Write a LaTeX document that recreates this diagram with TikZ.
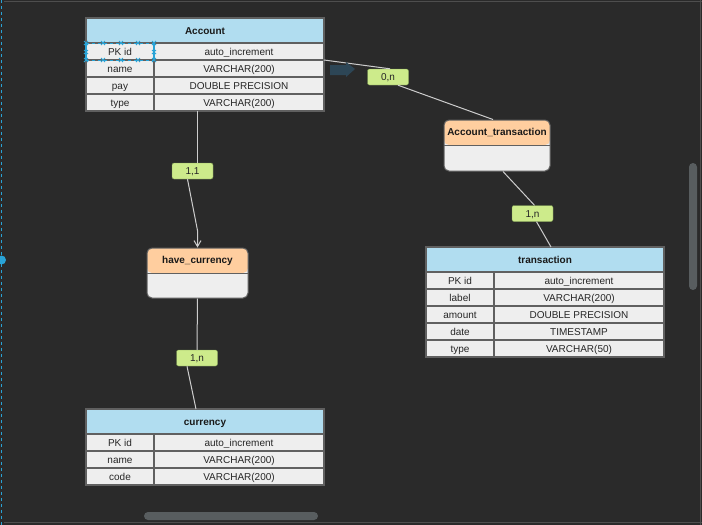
\documentclass[tikz,border=0pt]{standalone}
\usepackage{fontspec}
\setmainfont{Liberation Sans}
\definecolor{canvasbg}{RGB}{42, 42, 42}
\definecolor{framegray}{RGB}{78, 78, 78}
\definecolor{headblue}{RGB}{177, 221, 240}
\definecolor{cellgray}{RGB}{238, 238, 238}
\definecolor{gridgray}{RGB}{96, 96, 96}
\definecolor{relorange}{RGB}{255, 206, 159}
\definecolor{cardgreen}{RGB}{205, 235, 139}
\definecolor{cardedge}{RGB}{120, 150, 80}
\definecolor{linkgray}{RGB}{205, 205, 205}
\definecolor{selblue}{RGB}{41, 163, 214}
\definecolor{bargray}{RGB}{88, 93, 95}
\definecolor{hintblue}{RGB}{45, 70, 86}
\usepackage{tikz}
\usetikzlibrary{arrows.meta, positioning, calc}

\tikzset{
  tblhead/.style={draw=gridgray, fill=headblue, line width=1.2pt, inner sep=0pt, outer sep=0pt, minimum width=238pt, minimum height=25pt, text height=7.2pt, text depth=0pt, font=\bfseries, text=black!90},
  keycell/.style={draw=gridgray, fill=cellgray, line width=1.2pt, inner sep=0pt, outer sep=0pt, minimum width=68pt, minimum height=17pt, text height=7.2pt, text depth=0pt, text=black!85},
  typecell/.style={keycell, minimum width=170pt},
  relbox/.style={draw=gridgray, fill=cellgray, line width=1pt, rounded corners=5pt, inner sep=0pt, minimum width=106pt, minimum height=51pt,
    path picture={
      \fill[relorange] (path picture bounding box.north west) rectangle ([yshift=-25pt]path picture bounding box.north east);
      \draw[gridgray, line width=1pt] ([yshift=-25pt]path picture bounding box.north west) -- ([yshift=-25pt]path picture bounding box.north east);
    }},
  reltitle/.style={font=\bfseries, text=black!90, inner sep=0pt, text height=7.2pt, text depth=0pt},
  cardbox/.style={draw=cardedge, fill=cardgreen, rounded corners=2pt, inner sep=0pt, minimum width=41pt, minimum height=16pt, text height=7.2pt, text depth=0pt, text=black!85},
  link/.style={draw=linkgray, line width=1pt}
}

\begin{document}
\begin{tikzpicture}[x=1pt, y=-1pt]
  \useasboundingbox (0,0) rectangle (702,525);
  \fill[canvasbg] (0,0) rectangle (702,525);

  % Editor frame
  \draw[framegray] (4,1.5) -- (702,1.5);
  \draw[framegray] (700.5,0) -- (700.5,525);
  \draw[framegray] (4,522.5) -- (702,522.5);
  \draw[selblue, dashed, line width=1pt] (1.5,0) -- (1.5,525);
  \fill[selblue] (1.5,260) circle (4.5);
  \fill[bargray, rounded corners=4pt] (689,163) rectangle (697,290);
  \fill[bargray, rounded corners=4pt] (144,512) rectangle (318,520);

  % Account table
  \node[tblhead, anchor=north west] (acc) at (86,18) {Account};
  \node[keycell, anchor=north west] (acc-k1) at (acc.south west) {PK id};
  \node[typecell, anchor=north west] (acc-t1) at (acc-k1.north east) {auto\_increment};
  \node[keycell, below=0pt of acc-k1] (acc-k2) {name};
  \node[typecell, below=0pt of acc-t1] (acc-t2) {VARCHAR(200)};
  \node[keycell, below=0pt of acc-k2] (acc-k3) {pay};
  \node[typecell, below=0pt of acc-t2] (acc-t3) {DOUBLE PRECISION};
  \node[keycell, below=0pt of acc-k3] (acc-k4) {type};
  \node[typecell, below=0pt of acc-t3] (acc-t4) {VARCHAR(200)};

  % selected cell
  \draw[selblue, dashed, line width=0.8pt] (acc-k1.north west) -- (acc-k1.north east) (acc-k1.south west) -- (acc-k1.south east);
  \draw[selblue, line width=2pt] (acc-k1.north west) -- (acc-k1.south west) (acc-k1.north east) -- (acc-k1.south east);
  \foreach \hx in {86,103,121,138,154} {
    \draw[selblue, line width=0.8pt] (\hx-2,41) -- (\hx+2,45) (\hx-2,45) -- (\hx+2,41);
    \draw[selblue, line width=0.8pt] (\hx-2,58) -- (\hx+2,62) (\hx-2,62) -- (\hx+2,58);
  }
  \foreach \hx in {86,154} {
    \draw[selblue, line width=0.8pt] (\hx-2,50) -- (\hx+2,54) (\hx-2,54) -- (\hx+2,50);
  }

  % transaction table
  \node[tblhead, anchor=north west] (trans) at (426,247) {transaction};
  \node[keycell, anchor=north west] (trans-k1) at (trans.south west) {PK id};
  \node[typecell, anchor=north west] (trans-t1) at (trans-k1.north east) {auto\_increment};
  \node[keycell, below=0pt of trans-k1] (trans-k2) {label};
  \node[typecell, below=0pt of trans-t1] (trans-t2) {VARCHAR(200)};
  \node[keycell, below=0pt of trans-k2] (trans-k3) {amount};
  \node[typecell, below=0pt of trans-t2] (trans-t3) {DOUBLE PRECISION};
  \node[keycell, below=0pt of trans-k3] (trans-k4) {date};
  \node[typecell, below=0pt of trans-t3] (trans-t4) {TIMESTAMP};
  \node[keycell, below=0pt of trans-k4] (trans-k5) {type};
  \node[typecell, below=0pt of trans-t4] (trans-t5) {VARCHAR(50)};

  % currency table
  \node[tblhead, anchor=north west] (cur) at (86,409) {currency};
  \node[keycell, anchor=north west] (cur-k1) at (cur.south west) {PK id};
  \node[typecell, anchor=north west] (cur-t1) at (cur-k1.north east) {auto\_increment};
  \node[keycell, below=0pt of cur-k1] (cur-k2) {name};
  \node[typecell, below=0pt of cur-t1] (cur-t2) {VARCHAR(200)};
  \node[keycell, below=0pt of cur-k2] (cur-k3) {code};
  \node[typecell, below=0pt of cur-t2] (cur-t3) {VARCHAR(200)};

  % Relations
  \node[relbox] (atrans) at (497,145.5) {};
  \node[reltitle] (atrans-t) at ($(atrans.north)+(0,12.5)$) {Account\_transaction};
  \node[relbox, minimum width=101pt, minimum height=50pt] (hc) at (197.5,273) {};
  \node[reltitle] (hc-t) at ($(hc.north)+(0,12.5)$) {have\_currency};

  % Cardinalities
  \node[cardbox] (c0n) at (388,77) {0,n};
  \node[cardbox] (c1n) at (532.5,213.5) {1,n};
  \node[cardbox] (c11) at (192.5,171) {1,1};
  \node[cardbox] (c1nc) at (197,358) {1,n};

  % Links
  \draw[link] (acc-t2.north east) -- ([xshift=2pt]c0n.north);
  \draw[link] ([xshift=10pt]c0n.south) -- ([xshift=-4pt]atrans.north);
  \draw[link] ([xshift=6pt]atrans.south) -- ([xshift=2pt]c1n.north);
  \draw[link] ([xshift=4pt]c1n.south) -- ([xshift=6pt]trans.north);
  \draw[link] (hc.north |- acc-t4.south) -- (hc.north |- c11.north);
  \draw[link, -{Straight Barb[length=6pt, width=7pt]}] ([xshift=-5pt]c11.south) -- ($(hc.north)+(0,-17)$) -- (hc.north);
  \draw[link] (hc.south) -- (c1nc.north);
  \draw[link] ([xshift=-10pt]c1nc.south) -- ([xshift=-9pt]cur.north);

  % hover hint
  \fill[hintblue] (330,65) -- (346,65) -- (346,62) -- (355,69) -- (346,77) -- (346,75) -- (330,75) -- cycle;
\end{tikzpicture}
\end{document}
